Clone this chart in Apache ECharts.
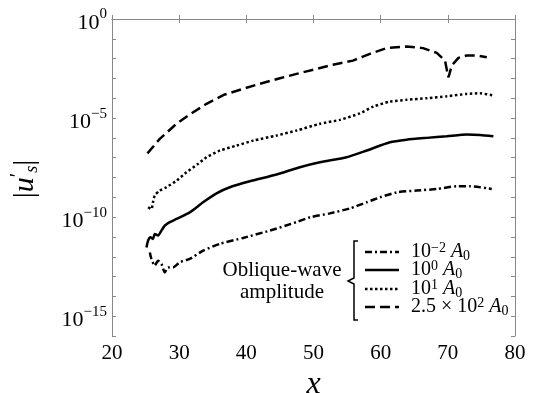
<!DOCTYPE html>
<html>
<head>
<meta charset="utf-8" />
<title>oblique wave amplitude</title>
<script type="text/javascript" src="https://cdn.jsdelivr.net/npm/echarts@6/dist/echarts.min.js"></script>
</head>
<body style="margin:0">
<div id="chart" style="width:538px; height:393px"></div>
<script type="text/javascript">
// x positions and log10(|u's|)
var xDashDot = [25.63,25.87,26.36,26.86,27.36,27.85,28.35,29.09,30.09,31.58,33.56,36.05,39.52,43.5,47.48,49.46,52.44,55.42,57.91,59.9,62.38,65.36,68.35,71.33,73.31,76.54];
var yDashDot = [-11.78,-12.11,-12.45,-12.20,-12.36,-12.79,-12.54,-12.54,-12.28,-12.11,-11.69,-11.35,-11.05,-10.68,-10.25,-10.01,-9.81,-9.56,-9.25,-9.0,-8.75,-8.66,-8.58,-8.44,-8.44,-8.58];

var xSolid = [25.13,25.37,25.72,26.11,26.36,26.86,27.36,27.85,28.35,29.6,31.58,33.56,35.56,37.54,40.52,44.5,47.97,50.95,54.93,57.91,61.38,63.87,66.86,69.84,72.82,74.8,76.78];
var ySolid = [-11.53,-11.19,-11.02,-11.10,-10.85,-10.93,-10.68,-10.43,-10.30,-10.09,-9.76,-9.25,-8.80,-8.49,-8.19,-7.85,-7.48,-7.23,-6.98,-6.64,-6.22,-6.09,-6.0,-5.92,-5.83,-5.85,-5.92];

var xDotted = [25.37,25.87,26.11,26.36,27.11,28.11,29.6,31.09,32.82,34.07,36.05,38.54,41.01,44.5,47.48,50.95,53.93,56.91,58.9,61.38,63.87,66.86,69.84,72.82,74.8,76.78];
var yDotted = [-9.50,-9.59,-9.25,-8.91,-8.66,-8.49,-8.16,-7.74,-7.31,-6.98,-6.64,-6.39,-6.14,-5.88,-5.63,-5.29,-5.09,-4.76,-4.42,-4.17,-4.08,-4.0,-3.90,-3.78,-3.75,-3.86];

var xDashed = [25.28,27.11,29.6,31.58,34.07,36.8,39.48,42.02,45.0,47.48,50.46,52.89,55.87,58.4,60.9,63.87,66.3,68.35,69.58,70.07,70.22,70.58,71.58,72.82,74.31,75.8];
var yDashed = [-6.78,-6.05,-5.29,-4.82,-4.28,-3.81,-3.53,-3.27,-2.99,-2.77,-2.52,-2.31,-2.10,-1.76,-1.47,-1.39,-1.47,-1.71,-2.10,-2.94,-2.80,-2.35,-1.96,-1.84,-1.84,-1.93];

var seriesNames = ['10^-2 A0', '10^0 A0', '10^1 A0', '2.5x10^2 A0'];
var legendRich = [
    '{b|10}{sup|−2}{b| }{i|A}{sub|0}',
    '{b|10}{sup|0}{b| }{i|A}{sub|0}',
    '{b|10}{sup|1}{b| }{i|A}{sub|0}',
    '{b|2.5 × 10}{sup|2}{b| }{i|A}{sub|0}'
];
var dashes = [[7, 3, 2, 3], 'solid', [2.5, 2.5], [10, 5]];
var smoothing = [0.2, 0.2, 0.2, false];

var serif = 'Liberation Serif';

function zip(xs, ys) {
    var out = [];
    for (var i = 0; i < xs.length; i++) out.push([xs[i], ys[i]]);
    return out;
}

var richText = {
    b: { fontFamily: serif, fontSize: 20, color: '#000', lineHeight: 22 },
    i: { fontFamily: serif, fontSize: 20, fontStyle: 'italic', color: '#000', lineHeight: 22 },
    sup: { fontFamily: serif, fontSize: 14, color: '#000', verticalAlign: 'top', lineHeight: 13 },
    sub: { fontFamily: serif, fontSize: 14, color: '#000', verticalAlign: 'bottom', lineHeight: 13 }
};

var myChart = echarts.init(document.getElementById('chart'));

var allData = [zip(xDashDot, yDashDot), zip(xSolid, ySolid), zip(xDotted, yDotted), zip(xDashed, yDashed)];
var series = [];
for (var k = 0; k < 4; k++) {
    series.push({
        name: seriesNames[k],
        type: 'line',
        data: allData[k],
        showSymbol: false,
        symbol: 'none',
        smooth: smoothing[k],
        xAxisIndex: 0,
        yAxisIndex: 0,
        lineStyle: { color: '#000', width: 2.5, type: dashes[k], cap: 'butt' }
    });
}

// legend drawn by hand (lines + labels + brace)
var graphics = [];
var rowY = [252, 270, 289, 307];
for (var r = 0; r < 4; r++) {
    graphics.push({
        type: 'line',
        shape: { x1: 365, y1: rowY[r], x2: 399, y2: rowY[r] },
        style: { stroke: '#000', lineWidth: 2.5, lineDash: dashes[r] === 'solid' ? null : dashes[r] }
    });
    graphics.push({
        type: 'text',
        x: 411, y: rowY[r],
        style: { text: legendRich[r], rich: richText, verticalAlign: 'middle', align: 'left' }
    });
}
graphics.push({
    type: 'polyline',
    shape: { points: [[358, 241], [354, 241], [354, 278], [348, 281], [354, 284], [354, 320], [358, 320]] },
    style: { stroke: '#000', lineWidth: 1.5, fill: null }
});
graphics.push({
    type: 'text', x: 282, y: 270,
    style: { text: 'Oblique-wave', font: '21px "Liberation Serif"', fill: '#000', align: 'center', verticalAlign: 'middle' }
});
graphics.push({
    type: 'text', x: 282, y: 292,
    style: { text: 'amplitude', font: '21px "Liberation Serif"', fill: '#000', align: 'center', verticalAlign: 'middle' }
});
// y axis title |u's|
graphics.push({
    type: 'text', x: 25, y: 179, rotation: Math.PI / 2,
    style: {
        text: '{b||}{i|u}{sup|′}{sub|s}{b||}',
        align: 'center', verticalAlign: 'middle',
        rich: {
            b: { fontFamily: serif, fontSize: 30, color: '#000', lineHeight: 32 },
            i: { fontFamily: serif, fontSize: 30, fontStyle: 'italic', color: '#000', lineHeight: 32 },
            sup: { fontFamily: serif, fontSize: 20, color: '#000', verticalAlign: 'top', lineHeight: 20 },
            sub: { fontFamily: serif, fontSize: 18, fontStyle: 'italic', color: '#000', verticalAlign: 'bottom', lineHeight: 18 }
        }
    }
});

var axisGray = '#888';

myChart.setOption({
    animation: false,
    grid: { left: 112, right: 23, top: 19, bottom: 57, outerBoundsMode: 'none', containLabel: false },
    xAxis: [{
        type: 'value', min: 20, max: 80, interval: 10,
        position: 'bottom',
        name: 'x', nameLocation: 'middle', nameGap: 30,
        nameTextStyle: { fontFamily: serif, fontSize: 32, fontStyle: 'italic', color: '#000' },
        axisLine: { show: true, lineStyle: { color: axisGray, width: 1 } },
        axisTick: { show: true, inside: true, length: 4, lineStyle: { color: axisGray } },
        axisLabel: { margin: 7, fontFamily: serif, fontSize: 21, color: '#000' },
        splitLine: { show: false }
    }, {
        type: 'value', min: 20, max: 80, interval: 10,
        position: 'top',
        axisLine: { show: true, lineStyle: { color: axisGray, width: 1 } },
        axisTick: { show: true, inside: true, length: 4, lineStyle: { color: axisGray } },
        axisLabel: { show: false },
        splitLine: { show: false }
    }],
    yAxis: [{
        type: 'value', min: -16, max: 0, interval: 1,
        position: 'left',
        axisLine: { show: true, lineStyle: { color: axisGray, width: 1 } },
        axisTick: { show: true, inside: true, length: 4, lineStyle: { color: axisGray } },
        axisLabel: {
            margin: 5,
            formatter: function (v) {
                if (v % 5 !== 0) return '';
                var e = v === 0 ? '0' : '−' + Math.abs(v);
                return '{b|10}{sup|' + e + '}';
            },
            rich: {
                b: { fontFamily: serif, fontSize: 22, color: '#000', lineHeight: 24, padding: [8, 0, 0, 0] },
                sup: { fontFamily: serif, fontSize: 15, color: '#000', verticalAlign: 'top', lineHeight: 15 }
            }
        },
        splitLine: { show: false }
    }, {
        type: 'value', min: -16, max: 0, interval: 1,
        position: 'right',
        axisLine: { show: true, lineStyle: { color: axisGray, width: 1 } },
        axisTick: { show: true, inside: true, length: 4, lineStyle: { color: axisGray } },
        axisLabel: { show: false },
        splitLine: { show: false }
    }],
    series: series,
    graphic: graphics
});
</script>
</body>
</html>
